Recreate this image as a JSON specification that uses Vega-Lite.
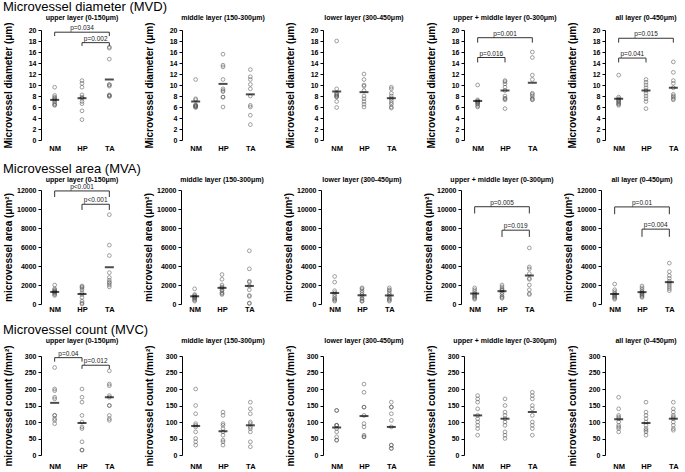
{
"$schema": "https://vega.github.io/schema/vega-lite/v6.json",
"padding": {"left": 2, "top": 1, "right": 2, "bottom": 0},
"config": {"font": "Liberation Sans", "view": {"stroke": null}, "axis": {"grid": false}},
"spacing": 11,
"datasets": {
"mvd": [
{"l":"a","g":"NM","v":9.6},{"l":"a","g":"NM","v":8.1},{"l":"a","g":"NM","v":7.8},{"l":"a","g":"NM","v":7.6},{"l":"a","g":"NM","v":7.4},{"l":"a","g":"NM","v":7.2},{"l":"a","g":"NM","v":6.9},{"l":"a","g":"NM","v":6.6},{"l":"a","g":"NM","v":6.4},{"l":"a","g":"NM","v":6.3},
{"l":"a","g":"HP","v":10.8},{"l":"a","g":"HP","v":10.3},{"l":"a","g":"HP","v":9.6},{"l":"a","g":"HP","v":8.2},{"l":"a","g":"HP","v":7.8},{"l":"a","g":"HP","v":7.6},{"l":"a","g":"HP","v":7.0},{"l":"a","g":"HP","v":6.6},{"l":"a","g":"HP","v":5.3},{"l":"a","g":"HP","v":3.7},
{"l":"a","g":"TA","v":16.9},{"l":"a","g":"TA","v":16.7},{"l":"a","g":"TA","v":14.7},{"l":"a","g":"TA","v":10.1},{"l":"a","g":"TA","v":10.0},{"l":"a","g":"TA","v":9.8},{"l":"a","g":"TA","v":8.2},{"l":"a","g":"TA","v":8.1},{"l":"a","g":"TA","v":8.0},{"l":"a","g":"TA","v":7.9},
{"l":"a","k":"m","g":"NM","v":7.3},{"l":"a","k":"m","g":"HP","v":7.6},{"l":"a","k":"m","g":"TA","v":11.0},
{"l":"a","k":"b","g":"NM","g2":"TA","gm":"HP","v":19.6,"v2":18.9,"p":"p=0.034"},
{"l":"a","k":"b","g":"HP","g2":"TA","gm":"HP-TA","v":17.7,"v2":17.1,"p":"p=0.002"},
{"l":"b","g":"NM","v":11.0},{"l":"b","g":"NM","v":7.5},{"l":"b","g":"NM","v":7.3},{"l":"b","g":"NM","v":6.4},{"l":"b","g":"NM","v":6.3},{"l":"b","g":"NM","v":6.2},{"l":"b","g":"NM","v":6.1},{"l":"b","g":"NM","v":6.0},{"l":"b","g":"NM","v":6.2},{"l":"b","g":"NM","v":5.9},
{"l":"b","g":"HP","v":15.6},{"l":"b","g":"HP","v":13.6},{"l":"b","g":"HP","v":13.3},{"l":"b","g":"HP","v":11.0},{"l":"b","g":"HP","v":9.3},{"l":"b","g":"HP","v":9.0},{"l":"b","g":"HP","v":8.8},{"l":"b","g":"HP","v":7.8},{"l":"b","g":"HP","v":7.8},{"l":"b","g":"HP","v":6.0},
{"l":"b","g":"TA","v":12.8},{"l":"b","g":"TA","v":11.5},{"l":"b","g":"TA","v":11.0},{"l":"b","g":"TA","v":10.1},{"l":"b","g":"TA","v":9.3},{"l":"b","g":"TA","v":8.0},{"l":"b","g":"TA","v":6.3},{"l":"b","g":"TA","v":6.0},{"l":"b","g":"TA","v":4.5},{"l":"b","g":"TA","v":2.8},
{"l":"b","k":"m","g":"NM","v":7.0},{"l":"b","k":"m","g":"HP","v":10.2},{"l":"b","k":"m","g":"TA","v":8.3},
{"l":"c","g":"NM","v":18.0},{"l":"c","g":"NM","v":9.3},{"l":"c","g":"NM","v":8.5},{"l":"c","g":"NM","v":8.3},{"l":"c","g":"NM","v":8.2},{"l":"c","g":"NM","v":8.0},{"l":"c","g":"NM","v":7.9},{"l":"c","g":"NM","v":7.8},{"l":"c","g":"NM","v":7.0},{"l":"c","g":"NM","v":5.9},
{"l":"c","g":"HP","v":12.0},{"l":"c","g":"HP","v":11.0},{"l":"c","g":"HP","v":10.0},{"l":"c","g":"HP","v":9.8},{"l":"c","g":"HP","v":9.0},{"l":"c","g":"HP","v":8.0},{"l":"c","g":"HP","v":7.5},{"l":"c","g":"HP","v":7.0},{"l":"c","g":"HP","v":6.5},{"l":"c","g":"HP","v":6.0},
{"l":"c","g":"TA","v":9.6},{"l":"c","g":"TA","v":9.3},{"l":"c","g":"TA","v":8.5},{"l":"c","g":"TA","v":8.0},{"l":"c","g":"TA","v":7.6},{"l":"c","g":"TA","v":7.2},{"l":"c","g":"TA","v":6.8},{"l":"c","g":"TA","v":6.5},{"l":"c","g":"TA","v":6.0},{"l":"c","g":"TA","v":5.8},
{"l":"c","k":"m","g":"NM","v":8.8},{"l":"c","k":"m","g":"HP","v":8.7},{"l":"c","k":"m","g":"TA","v":7.6},
{"l":"d","g":"NM","v":10.0},{"l":"d","g":"NM","v":7.3},{"l":"d","g":"NM","v":7.1},{"l":"d","g":"NM","v":7.0},{"l":"d","g":"NM","v":6.9},{"l":"d","g":"NM","v":6.8},{"l":"d","g":"NM","v":6.6},{"l":"d","g":"NM","v":6.5},{"l":"d","g":"NM","v":6.2},{"l":"d","g":"NM","v":6.0},
{"l":"d","g":"HP","v":10.8},{"l":"d","g":"HP","v":10.6},{"l":"d","g":"HP","v":10.2},{"l":"d","g":"HP","v":9.6},{"l":"d","g":"HP","v":9.0},{"l":"d","g":"HP","v":8.0},{"l":"d","g":"HP","v":7.6},{"l":"d","g":"HP","v":7.5},{"l":"d","g":"HP","v":7.3},{"l":"d","g":"HP","v":5.7},
{"l":"d","g":"TA","v":16.0},{"l":"d","g":"TA","v":15.0},{"l":"d","g":"TA","v":11.8},{"l":"d","g":"TA","v":11.0},{"l":"d","g":"TA","v":8.5},{"l":"d","g":"TA","v":8.3},{"l":"d","g":"TA","v":8.0},{"l":"d","g":"TA","v":7.6},{"l":"d","g":"TA","v":7.4},{"l":"d","g":"TA","v":7.3},
{"l":"d","k":"m","g":"NM","v":7.1},{"l":"d","k":"m","g":"HP","v":9.0},{"l":"d","k":"m","g":"TA","v":10.4},
{"l":"d","k":"b","g":"NM","g2":"TA","gm":"HP","v":18.6,"v2":17.7,"p":"p=0.001"},
{"l":"d","k":"b","g":"NM","g2":"HP","gm":"NM-HP","v":15.0,"v2":14.1,"p":"p=0.016"},
{"l":"e","g":"NM","v":11.8},{"l":"e","g":"NM","v":7.8},{"l":"e","g":"NM","v":7.5},{"l":"e","g":"NM","v":7.3},{"l":"e","g":"NM","v":7.1},{"l":"e","g":"NM","v":7.0},{"l":"e","g":"NM","v":6.8},{"l":"e","g":"NM","v":6.6},{"l":"e","g":"NM","v":6.5},{"l":"e","g":"NM","v":6.3},
{"l":"e","g":"HP","v":11.0},{"l":"e","g":"HP","v":10.5},{"l":"e","g":"HP","v":10.0},{"l":"e","g":"HP","v":9.5},{"l":"e","g":"HP","v":9.0},{"l":"e","g":"HP","v":8.5},{"l":"e","g":"HP","v":8.0},{"l":"e","g":"HP","v":7.5},{"l":"e","g":"HP","v":7.0},{"l":"e","g":"HP","v":5.7},
{"l":"e","g":"TA","v":14.2},{"l":"e","g":"TA","v":12.3},{"l":"e","g":"TA","v":10.8},{"l":"e","g":"TA","v":10.3},{"l":"e","g":"TA","v":9.5},{"l":"e","g":"TA","v":8.3},{"l":"e","g":"TA","v":8.0},{"l":"e","g":"TA","v":7.8},{"l":"e","g":"TA","v":7.5},{"l":"e","g":"TA","v":7.3},
{"l":"e","k":"m","g":"NM","v":7.5},{"l":"e","k":"m","g":"HP","v":9.0},{"l":"e","k":"m","g":"TA","v":9.5},
{"l":"e","k":"b","g":"NM","g2":"TA","gm":"HP","v":18.5,"v2":17.7,"p":"p=0.015"},
{"l":"e","k":"b","g":"NM","g2":"HP","gm":"NM-HP","v":14.9,"v2":14.1,"p":"p=0.041"}
],
"mva": [
{"l":"a","g":"NM","v":2000},{"l":"a","g":"NM","v":1600},{"l":"a","g":"NM","v":1500},{"l":"a","g":"NM","v":1400},{"l":"a","g":"NM","v":1300},{"l":"a","g":"NM","v":1200},{"l":"a","g":"NM","v":1100},{"l":"a","g":"NM","v":1000},{"l":"a","g":"NM","v":900},{"l":"a","g":"NM","v":1300},
{"l":"a","g":"HP","v":1900},{"l":"a","g":"HP","v":1800},{"l":"a","g":"HP","v":1700},{"l":"a","g":"HP","v":1500},{"l":"a","g":"HP","v":1200},{"l":"a","g":"HP","v":1000},{"l":"a","g":"HP","v":700},{"l":"a","g":"HP","v":300},{"l":"a","g":"HP","v":100},{"l":"a","g":"HP","v":0},
{"l":"a","g":"TA","v":9400},{"l":"a","g":"TA","v":6200},{"l":"a","g":"TA","v":5100},{"l":"a","g":"TA","v":3300},{"l":"a","g":"TA","v":2800},{"l":"a","g":"TA","v":2500},{"l":"a","g":"TA","v":2300},{"l":"a","g":"TA","v":2000},{"l":"a","g":"TA","v":1800},{"l":"a","g":"TA","v":2200},
{"l":"a","k":"m","g":"NM","v":1270},{"l":"a","k":"m","g":"HP","v":1050},{"l":"a","k":"m","g":"TA","v":3870},
{"l":"a","k":"b","g":"NM","g2":"TA","gm":"HP","v":11900,"v2":11260,"p":"p<0.001"},
{"l":"a","k":"b","g":"HP","g2":"TA","gm":"HP-TA","v":10500,"v2":9900,"p":"p<0.001"},
{"l":"b","g":"NM","v":1600},{"l":"b","g":"NM","v":1000},{"l":"b","g":"NM","v":900},{"l":"b","g":"NM","v":800},{"l":"b","g":"NM","v":700},{"l":"b","g":"NM","v":700},{"l":"b","g":"NM","v":600},{"l":"b","g":"NM","v":500},{"l":"b","g":"NM","v":400},{"l":"b","g":"NM","v":300},
{"l":"b","g":"HP","v":3100},{"l":"b","g":"HP","v":2600},{"l":"b","g":"HP","v":2000},{"l":"b","g":"HP","v":1800},{"l":"b","g":"HP","v":1700},{"l":"b","g":"HP","v":1500},{"l":"b","g":"HP","v":1400},{"l":"b","g":"HP","v":1200},{"l":"b","g":"HP","v":1100},{"l":"b","g":"HP","v":1000},
{"l":"b","g":"TA","v":5600},{"l":"b","g":"TA","v":3700},{"l":"b","g":"TA","v":2400},{"l":"b","g":"TA","v":2300},{"l":"b","g":"TA","v":1900},{"l":"b","g":"TA","v":1500},{"l":"b","g":"TA","v":900},{"l":"b","g":"TA","v":800},{"l":"b","g":"TA","v":100},{"l":"b","g":"TA","v":50},
{"l":"b","k":"m","g":"NM","v":810},{"l":"b","k":"m","g":"HP","v":1700},{"l":"b","k":"m","g":"TA","v":1900},
{"l":"c","g":"NM","v":2900},{"l":"c","g":"NM","v":2300},{"l":"c","g":"NM","v":1400},{"l":"c","g":"NM","v":1200},{"l":"c","g":"NM","v":1000},{"l":"c","g":"NM","v":800},{"l":"c","g":"NM","v":600},{"l":"c","g":"NM","v":500},{"l":"c","g":"NM","v":400},{"l":"c","g":"NM","v":300},
{"l":"c","g":"HP","v":1700},{"l":"c","g":"HP","v":1600},{"l":"c","g":"HP","v":1400},{"l":"c","g":"HP","v":1200},{"l":"c","g":"HP","v":1000},{"l":"c","g":"HP","v":800},{"l":"c","g":"HP","v":600},{"l":"c","g":"HP","v":500},{"l":"c","g":"HP","v":300},{"l":"c","g":"HP","v":300},
{"l":"c","g":"TA","v":1700},{"l":"c","g":"TA","v":1500},{"l":"c","g":"TA","v":1400},{"l":"c","g":"TA","v":1200},{"l":"c","g":"TA","v":1000},{"l":"c","g":"TA","v":800},{"l":"c","g":"TA","v":600},{"l":"c","g":"TA","v":500},{"l":"c","g":"TA","v":400},{"l":"c","g":"TA","v":300},
{"l":"c","k":"m","g":"NM","v":1160},{"l":"c","k":"m","g":"HP","v":920},{"l":"c","k":"m","g":"TA","v":900},
{"l":"d","g":"NM","v":1700},{"l":"d","g":"NM","v":1500},{"l":"d","g":"NM","v":1300},{"l":"d","g":"NM","v":1100},{"l":"d","g":"NM","v":1000},{"l":"d","g":"NM","v":900},{"l":"d","g":"NM","v":800},{"l":"d","g":"NM","v":700},{"l":"d","g":"NM","v":600},{"l":"d","g":"NM","v":500},
{"l":"d","g":"HP","v":2000},{"l":"d","g":"HP","v":1800},{"l":"d","g":"HP","v":1600},{"l":"d","g":"HP","v":1500},{"l":"d","g":"HP","v":1400},{"l":"d","g":"HP","v":1200},{"l":"d","g":"HP","v":1000},{"l":"d","g":"HP","v":800},{"l":"d","g":"HP","v":700},{"l":"d","g":"HP","v":600},
{"l":"d","g":"TA","v":5900},{"l":"d","g":"TA","v":3900},{"l":"d","g":"TA","v":3700},{"l":"d","g":"TA","v":3200},{"l":"d","g":"TA","v":2700},{"l":"d","g":"TA","v":2600},{"l":"d","g":"TA","v":2000},{"l":"d","g":"TA","v":1500},{"l":"d","g":"TA","v":1100},{"l":"d","g":"TA","v":1000},
{"l":"d","k":"m","g":"NM","v":1100},{"l":"d","k":"m","g":"HP","v":1350},{"l":"d","k":"m","g":"TA","v":3000},
{"l":"d","k":"b","g":"NM","g2":"TA","gm":"HP","v":10240,"v2":9530,"p":"p=0.005"},
{"l":"d","k":"b","g":"HP","g2":"TA","gm":"HP-TA","v":7770,"v2":7060,"p":"p=0.019"},
{"l":"e","g":"NM","v":2100},{"l":"e","g":"NM","v":1500},{"l":"e","g":"NM","v":1300},{"l":"e","g":"NM","v":1100},{"l":"e","g":"NM","v":1000},{"l":"e","g":"NM","v":900},{"l":"e","g":"NM","v":800},{"l":"e","g":"NM","v":700},{"l":"e","g":"NM","v":600},{"l":"e","g":"NM","v":500},
{"l":"e","g":"HP","v":1900},{"l":"e","g":"HP","v":1700},{"l":"e","g":"HP","v":1500},{"l":"e","g":"HP","v":1300},{"l":"e","g":"HP","v":1200},{"l":"e","g":"HP","v":1100},{"l":"e","g":"HP","v":1000},{"l":"e","g":"HP","v":900},{"l":"e","g":"HP","v":800},{"l":"e","g":"HP","v":700},
{"l":"e","g":"TA","v":4300},{"l":"e","g":"TA","v":3400},{"l":"e","g":"TA","v":3000},{"l":"e","g":"TA","v":2700},{"l":"e","g":"TA","v":2400},{"l":"e","g":"TA","v":2200},{"l":"e","g":"TA","v":2000},{"l":"e","g":"TA","v":1800},{"l":"e","g":"TA","v":1600},{"l":"e","g":"TA","v":1400},
{"l":"e","k":"m","g":"NM","v":1050},{"l":"e","k":"m","g":"HP","v":1250},{"l":"e","k":"m","g":"TA","v":2300},
{"l":"e","k":"b","g":"NM","g2":"TA","gm":"HP","v":10220,"v2":9450,"p":"p=0.01"},
{"l":"e","k":"b","g":"HP","g2":"TA","gm":"HP-TA","v":7880,"v2":7070,"p":"p=0.004"}
],
"mvc": [
{"l":"a","g":"NM","v":265},{"l":"a","g":"NM","v":200},{"l":"a","g":"NM","v":195},{"l":"a","g":"NM","v":175},{"l":"a","g":"NM","v":170},{"l":"a","g":"NM","v":120},{"l":"a","g":"NM","v":120},{"l":"a","g":"NM","v":110},{"l":"a","g":"NM","v":105},{"l":"a","g":"NM","v":95},
{"l":"a","g":"HP","v":200},{"l":"a","g":"HP","v":175},{"l":"a","g":"HP","v":160},{"l":"a","g":"HP","v":120},{"l":"a","g":"HP","v":100},{"l":"a","g":"HP","v":85},{"l":"a","g":"HP","v":80},{"l":"a","g":"HP","v":40},{"l":"a","g":"HP","v":15},{"l":"a","g":"HP","v":15},
{"l":"a","g":"TA","v":255},{"l":"a","g":"TA","v":215},{"l":"a","g":"TA","v":210},{"l":"a","g":"TA","v":180},{"l":"a","g":"TA","v":175},{"l":"a","g":"TA","v":150},{"l":"a","g":"TA","v":150},{"l":"a","g":"TA","v":120},{"l":"a","g":"TA","v":110},{"l":"a","g":"TA","v":105},
{"l":"a","k":"m","g":"NM","v":158},{"l":"a","k":"m","g":"HP","v":97},{"l":"a","k":"m","g":"TA","v":175},
{"l":"a","k":"b","g":"NM","g2":"HP","gm":"NM-HP","v":295,"v2":283,"p":"p=0.04"},
{"l":"a","k":"b","g":"HP","g2":"TA","gm":"HP-TA","v":272,"v2":261,"p":"p=0.012"},
{"l":"b","g":"NM","v":200},{"l":"b","g":"NM","v":150},{"l":"b","g":"NM","v":125},{"l":"b","g":"NM","v":95},{"l":"b","g":"NM","v":90},{"l":"b","g":"NM","v":85},{"l":"b","g":"NM","v":70},{"l":"b","g":"NM","v":50},{"l":"b","g":"NM","v":40},{"l":"b","g":"NM","v":30},
{"l":"b","g":"HP","v":130},{"l":"b","g":"HP","v":120},{"l":"b","g":"HP","v":95},{"l":"b","g":"HP","v":90},{"l":"b","g":"HP","v":80},{"l":"b","g":"HP","v":70},{"l":"b","g":"HP","v":60},{"l":"b","g":"HP","v":45},{"l":"b","g":"HP","v":40},{"l":"b","g":"HP","v":30},
{"l":"b","g":"TA","v":160},{"l":"b","g":"TA","v":140},{"l":"b","g":"TA","v":125},{"l":"b","g":"TA","v":100},{"l":"b","g":"TA","v":95},{"l":"b","g":"TA","v":85},{"l":"b","g":"TA","v":80},{"l":"b","g":"TA","v":70},{"l":"b","g":"TA","v":40},{"l":"b","g":"TA","v":25},
{"l":"b","k":"m","g":"NM","v":88},{"l":"b","k":"m","g":"HP","v":72},{"l":"b","k":"m","g":"TA","v":90},
{"l":"c","g":"NM","v":135},{"l":"c","g":"NM","v":135},{"l":"c","g":"NM","v":90},{"l":"c","g":"NM","v":90},{"l":"c","g":"NM","v":90},{"l":"c","g":"NM","v":80},{"l":"c","g":"NM","v":70},{"l":"c","g":"NM","v":55},{"l":"c","g":"NM","v":45},{"l":"c","g":"NM","v":45},
{"l":"c","g":"HP","v":215},{"l":"c","g":"HP","v":190},{"l":"c","g":"HP","v":145},{"l":"c","g":"HP","v":145},{"l":"c","g":"HP","v":120},{"l":"c","g":"HP","v":95},{"l":"c","g":"HP","v":85},{"l":"c","g":"HP","v":60},{"l":"c","g":"HP","v":55},{"l":"c","g":"HP","v":55},
{"l":"c","g":"TA","v":160},{"l":"c","g":"TA","v":145},{"l":"c","g":"TA","v":145},{"l":"c","g":"TA","v":125},{"l":"c","g":"TA","v":105},{"l":"c","g":"TA","v":85},{"l":"c","g":"TA","v":30},{"l":"c","g":"TA","v":30},{"l":"c","g":"TA","v":20},{"l":"c","g":"TA","v":20},
{"l":"c","k":"m","g":"NM","v":83},{"l":"c","k":"m","g":"HP","v":118},{"l":"c","k":"m","g":"TA","v":85},
{"l":"d","g":"NM","v":180},{"l":"d","g":"NM","v":170},{"l":"d","g":"NM","v":160},{"l":"d","g":"NM","v":140},{"l":"d","g":"NM","v":120},{"l":"d","g":"NM","v":110},{"l":"d","g":"NM","v":100},{"l":"d","g":"NM","v":90},{"l":"d","g":"NM","v":80},{"l":"d","g":"NM","v":60},
{"l":"d","g":"HP","v":170},{"l":"d","g":"HP","v":150},{"l":"d","g":"HP","v":130},{"l":"d","g":"HP","v":120},{"l":"d","g":"HP","v":110},{"l":"d","g":"HP","v":100},{"l":"d","g":"HP","v":90},{"l":"d","g":"HP","v":70},{"l":"d","g":"HP","v":60},{"l":"d","g":"HP","v":50},
{"l":"d","g":"TA","v":190},{"l":"d","g":"TA","v":180},{"l":"d","g":"TA","v":170},{"l":"d","g":"TA","v":150},{"l":"d","g":"TA","v":140},{"l":"d","g":"TA","v":120},{"l":"d","g":"TA","v":100},{"l":"d","g":"TA","v":90},{"l":"d","g":"TA","v":80},{"l":"d","g":"TA","v":60},
{"l":"d","k":"m","g":"NM","v":120},{"l":"d","k":"m","g":"HP","v":110},{"l":"d","k":"m","g":"TA","v":130},
{"l":"e","g":"NM","v":175},{"l":"e","g":"NM","v":140},{"l":"e","g":"NM","v":120},{"l":"e","g":"NM","v":115},{"l":"e","g":"NM","v":110},{"l":"e","g":"NM","v":100},{"l":"e","g":"NM","v":90},{"l":"e","g":"NM","v":85},{"l":"e","g":"NM","v":80},{"l":"e","g":"NM","v":70},
{"l":"e","g":"HP","v":160},{"l":"e","g":"HP","v":130},{"l":"e","g":"HP","v":120},{"l":"e","g":"HP","v":110},{"l":"e","g":"HP","v":100},{"l":"e","g":"HP","v":90},{"l":"e","g":"HP","v":80},{"l":"e","g":"HP","v":75},{"l":"e","g":"HP","v":70},{"l":"e","g":"HP","v":60},
{"l":"e","g":"TA","v":160},{"l":"e","g":"TA","v":140},{"l":"e","g":"TA","v":130},{"l":"e","g":"TA","v":120},{"l":"e","g":"TA","v":115},{"l":"e","g":"TA","v":110},{"l":"e","g":"TA","v":100},{"l":"e","g":"TA","v":90},{"l":"e","g":"TA","v":80},{"l":"e","g":"TA","v":75},
{"l":"e","k":"m","g":"NM","v":108},{"l":"e","k":"m","g":"HP","v":97},{"l":"e","k":"m","g":"TA","v":110}
]
},
"vconcat": [
{
"data": {"name": "mvd"},
"title": {"text": "Microvessel diameter (MVD)", "anchor": "start", "fontSize": 13, "fontWeight": "normal", "offset": 0, "color": "#000"},
"facet": {"column": {"field": "l", "type": "nominal", "sort": ["a","b","c","d","e"], "title": null,
  "header": {"labelExpr": "datum.value=='a'?'upper layer (0-150μm)':datum.value=='b'?'middle layer (150-300μm)':datum.value=='c'?'lower layer (300-450μm)':datum.value=='d'?'upper + middle layer (0-300μm)':'all layer (0-450μm)'", "labelFontSize": 7, "labelFontWeight": "bold", "labelPadding": 0, "labelColor": "#000"}}},
"spacing": 20,
"resolve": {"axis": {"y": "independent"}},
"spec": {
  "width": 82, "height": 110,
  "encoding": {
    "x": {"field": "g", "type": "nominal", "scale": {"type": "point", "domain": ["NM","NM-HP","HP","HP-TA","TA"], "padding": 1.2}, "axis": {"values": ["NM","HP","TA"], "title": null, "domain": false, "ticks": false, "tickSize": 0, "labelAngle": 0, "labelFontSize": 7.5, "labelFontWeight": "bold", "labelColor": "#000", "labelPadding": -5}},
    "y": {"field": "v", "type": "quantitative", "scale": {"domain": [0, 20], "nice": false}, "axis": {"title": "Microvessel diameter (μm)", "values": [0,2,4,6,8,10,12,14,16,18,20], "domainColor": "#000", "tickColor": "#000", "tickSize": 3, "labelFontSize": 7, "labelFontWeight": "bold", "labelColor": "#000", "titleFontSize": 10, "titleFontWeight": "bold", "titleColor": "#000", "minExtent": 26, "maxExtent": 26, "titlePadding": 2, "labelPadding": 2}}
  },
  "layer": [
    {"transform": [{"filter": "!datum.k"}], "mark": {"type": "point", "shape": "circle", "filled": false, "size": 14, "stroke": "#555", "strokeWidth": 0.8}},
    {"transform": [{"filter": "datum.k=='m'"}], "mark": {"type": "tick", "color": "#000", "thickness": 2, "size": 9}},
    {"transform": [{"filter": "datum.k=='b'"}], "mark": {"type": "rule", "color": "#333", "strokeWidth": 1}, "encoding": {"x2": {"field": "g2"}}},
    {"transform": [{"filter": "datum.k=='b'"}], "mark": {"type": "rule", "color": "#333", "strokeWidth": 1}, "encoding": {"y2": {"field": "v2"}}},
    {"transform": [{"filter": "datum.k=='b'"}], "mark": {"type": "rule", "color": "#333", "strokeWidth": 1}, "encoding": {"x": {"field": "g2", "type": "nominal", "title": null, "scale": {"type": "point", "domain": ["NM","NM-HP","HP","HP-TA","TA"], "padding": 1.2}}, "y2": {"field": "v2"}}},
    {"transform": [{"filter": "datum.k=='b'"}], "mark": {"type": "text", "fontSize": 6.5, "baseline": "bottom", "dy": -1, "color": "#222"}, "encoding": {"x": {"field": "gm", "type": "nominal", "title": null, "scale": {"type": "point", "domain": ["NM","NM-HP","HP","HP-TA","TA"], "padding": 1.2}}, "text": {"field": "p"}}}
  ]
}
},
{
"data": {"name": "mva"},
"title": {"text": "Microvessel area (MVA)", "anchor": "start", "fontSize": 13, "fontWeight": "normal", "offset": 0, "color": "#000"},
"facet": {"column": {"field": "l", "type": "nominal", "sort": ["a","b","c","d","e"], "title": null,
  "header": {"labelExpr": "datum.value=='a'?'upper layer (0-150μm)':datum.value=='b'?'middle layer (150-300μm)':datum.value=='c'?'lower layer (300-450μm)':datum.value=='d'?'upper + middle layer (0-300μm)':'all layer (0-450μm)'", "labelFontSize": 7, "labelFontWeight": "bold", "labelPadding": 0, "labelColor": "#000"}}},
"spacing": 20,
"resolve": {"axis": {"y": "independent"}},
"spec": {
  "width": 82, "height": 114,
  "encoding": {
    "x": {"field": "g", "type": "nominal", "scale": {"type": "point", "domain": ["NM","NM-HP","HP","HP-TA","TA"], "padding": 1.2}, "axis": {"values": ["NM","HP","TA"], "title": null, "domain": false, "ticks": false, "tickSize": 0, "labelAngle": 0, "labelFontSize": 7.5, "labelFontWeight": "bold", "labelColor": "#000", "labelPadding": -3}},
    "y": {"field": "v", "type": "quantitative", "scale": {"domain": [0, 12000], "nice": false}, "axis": {"title": "microvessel area (μm²)", "values": [0,2000,4000,6000,8000,10000,12000], "format": "d", "domainColor": "#000", "tickColor": "#000", "tickSize": 3, "labelFontSize": 7, "labelFontWeight": "bold", "labelColor": "#000", "titleFontSize": 10, "titleFontWeight": "bold", "titleColor": "#000", "minExtent": 26, "maxExtent": 26, "titlePadding": 2, "labelPadding": 2}}
  },
  "layer": [
    {"transform": [{"filter": "!datum.k"}], "mark": {"type": "point", "shape": "circle", "filled": false, "size": 14, "stroke": "#555", "strokeWidth": 0.8}},
    {"transform": [{"filter": "datum.k=='m'"}], "mark": {"type": "tick", "color": "#000", "thickness": 2, "size": 9}},
    {"transform": [{"filter": "datum.k=='b'"}], "mark": {"type": "rule", "color": "#333", "strokeWidth": 1}, "encoding": {"x2": {"field": "g2"}}},
    {"transform": [{"filter": "datum.k=='b'"}], "mark": {"type": "rule", "color": "#333", "strokeWidth": 1}, "encoding": {"y2": {"field": "v2"}}},
    {"transform": [{"filter": "datum.k=='b'"}], "mark": {"type": "rule", "color": "#333", "strokeWidth": 1}, "encoding": {"x": {"field": "g2", "type": "nominal", "title": null, "scale": {"type": "point", "domain": ["NM","NM-HP","HP","HP-TA","TA"], "padding": 1.2}}, "y2": {"field": "v2"}}},
    {"transform": [{"filter": "datum.k=='b'"}], "mark": {"type": "text", "fontSize": 6.5, "baseline": "bottom", "dy": -1, "color": "#222"}, "encoding": {"x": {"field": "gm", "type": "nominal", "title": null, "scale": {"type": "point", "domain": ["NM","NM-HP","HP","HP-TA","TA"], "padding": 1.2}}, "text": {"field": "p"}}}
  ]
}
},
{
"data": {"name": "mvc"},
"title": {"text": "Microvessel count (MVC)", "anchor": "start", "fontSize": 13, "fontWeight": "normal", "offset": 0, "color": "#000"},
"facet": {"column": {"field": "l", "type": "nominal", "sort": ["a","b","c","d","e"], "title": null,
  "header": {"labelExpr": "datum.value=='a'?'upper layer (0-150μm)':datum.value=='b'?'middle layer (150-300μm)':datum.value=='c'?'lower layer (300-450μm)':datum.value=='d'?'upper + middle layer (0-300μm)':'all layer (0-450μm)'", "labelFontSize": 7, "labelFontWeight": "bold", "labelPadding": 0, "labelColor": "#000"}}},
"spacing": 20,
"resolve": {"axis": {"y": "independent"}},
"spec": {
  "width": 82, "height": 99,
  "encoding": {
    "x": {"field": "g", "type": "nominal", "scale": {"type": "point", "domain": ["NM","NM-HP","HP","HP-TA","TA"], "padding": 1.2}, "axis": {"values": ["NM","HP","TA"], "title": null, "domain": false, "ticks": false, "tickSize": 0, "labelAngle": 0, "labelFontSize": 7.5, "labelFontWeight": "bold", "labelColor": "#000", "labelPadding": -5}},
    "y": {"field": "v", "type": "quantitative", "scale": {"domain": [0, 300], "nice": false}, "axis": {"title": "microvessel count (/mm²)", "values": [0,50,100,150,200,250,300], "domainColor": "#000", "tickColor": "#000", "tickSize": 3, "labelFontSize": 7, "labelFontWeight": "bold", "labelColor": "#000", "titleFontSize": 10, "titleFontWeight": "bold", "titleColor": "#000", "minExtent": 26, "maxExtent": 26, "titlePadding": 2, "labelPadding": 2}}
  },
  "layer": [
    {"transform": [{"filter": "!datum.k"}], "mark": {"type": "point", "shape": "circle", "filled": false, "size": 14, "stroke": "#555", "strokeWidth": 0.8}},
    {"transform": [{"filter": "datum.k=='m'"}], "mark": {"type": "tick", "color": "#000", "thickness": 2, "size": 9}},
    {"transform": [{"filter": "datum.k=='b'"}], "mark": {"type": "rule", "color": "#333", "strokeWidth": 1}, "encoding": {"x2": {"field": "g2"}}},
    {"transform": [{"filter": "datum.k=='b'"}], "mark": {"type": "rule", "color": "#333", "strokeWidth": 1}, "encoding": {"y2": {"field": "v2"}}},
    {"transform": [{"filter": "datum.k=='b'"}], "mark": {"type": "rule", "color": "#333", "strokeWidth": 1}, "encoding": {"x": {"field": "g2", "type": "nominal", "title": null, "scale": {"type": "point", "domain": ["NM","NM-HP","HP","HP-TA","TA"], "padding": 1.2}}, "y2": {"field": "v2"}}},
    {"transform": [{"filter": "datum.k=='b'"}], "mark": {"type": "text", "fontSize": 6.5, "baseline": "bottom", "dy": -1, "color": "#222"}, "encoding": {"x": {"field": "gm", "type": "nominal", "title": null, "scale": {"type": "point", "domain": ["NM","NM-HP","HP","HP-TA","TA"], "padding": 1.2}}, "text": {"field": "p"}}}
  ]
}
}
]
}
